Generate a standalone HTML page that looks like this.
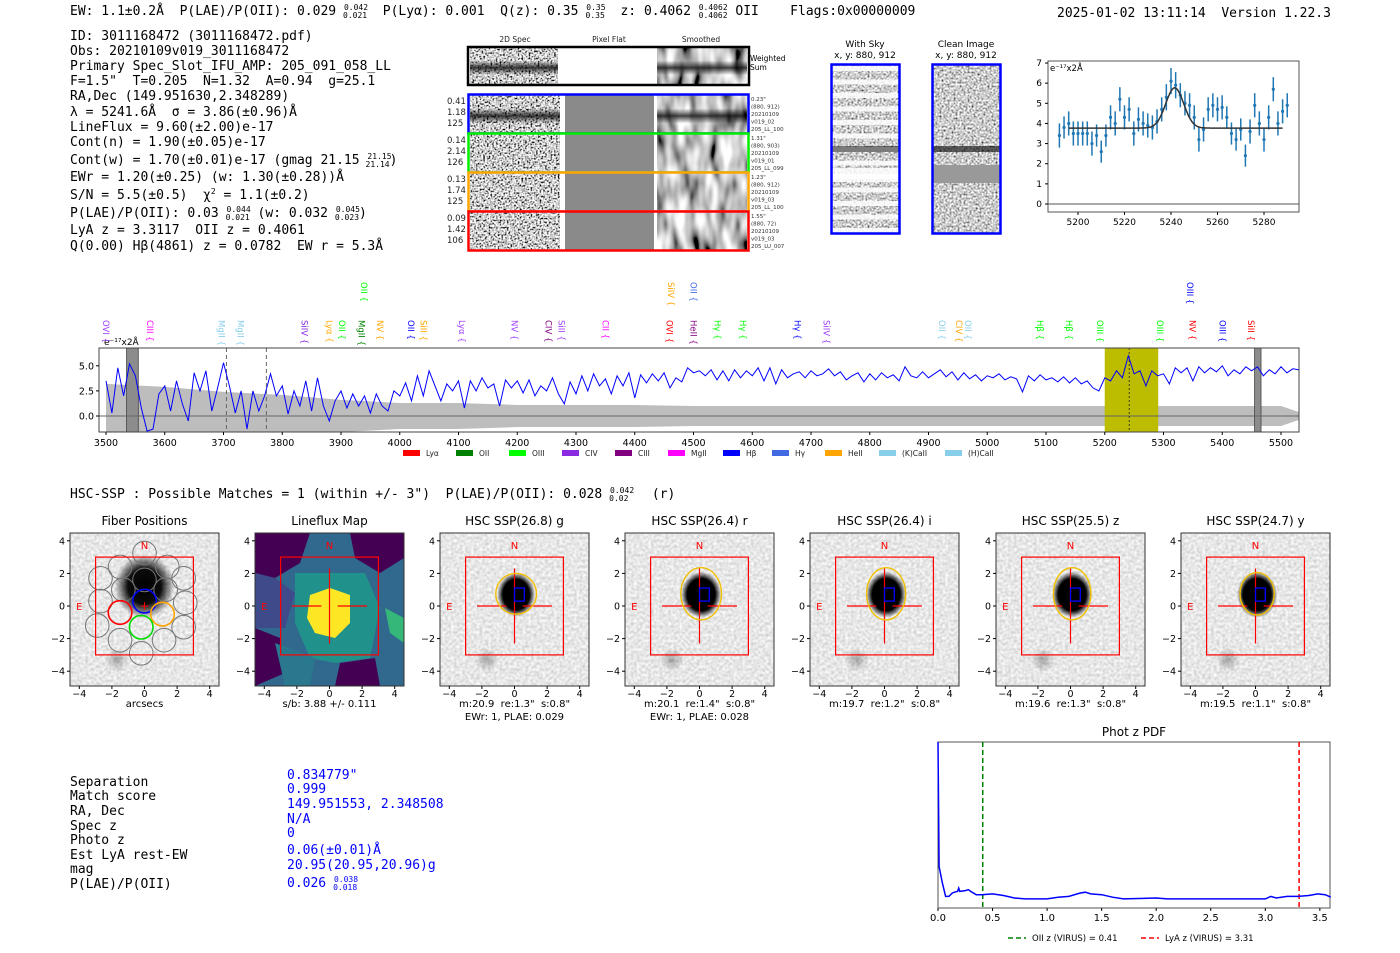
<!DOCTYPE html>
<html><head><meta charset="utf-8">
<style>
html,body{margin:0;padding:0;background:#fff;}
svg{display:block;}
svg text{white-space:pre;}
.mono{font-family:"DejaVu Sans Mono","Liberation Mono",monospace;}
.sans{font-family:"DejaVu Sans","Liberation Sans",sans-serif;}
</style></head>
<body>
<svg id="fig" width="1400" height="953" viewBox="0 0 1400 953" xmlns="http://www.w3.org/2000/svg" xml:space="preserve">
<defs>
 <filter id="nzHard" x="0" y="0" width="1" height="1">
  <feTurbulence type="fractalNoise" baseFrequency="0.55" numOctaves="1" seed="4"/>
  <feColorMatrix type="matrix" values="3 0 0 0 -0.9 3 0 0 0 -0.9 3 0 0 0 -0.9 0 0 0 0 1"/>
 </filter>
 <filter id="nzSmooth" x="0" y="0" width="1" height="1">
  <feTurbulence type="fractalNoise" baseFrequency="0.09 0.03" numOctaves="2" seed="7"/>
  <feColorMatrix type="matrix" values="2 0 0 0 -0.45 2 0 0 0 -0.45 2 0 0 0 -0.45 0 0 0 0 1"/>
 </filter>
 <filter id="nzLight" x="0" y="0" width="1" height="1">
  <feTurbulence type="fractalNoise" baseFrequency="0.35" numOctaves="1" seed="11"/>
  <feColorMatrix type="matrix" values="0.6 0 0 0 0.5 0.6 0 0 0 0.5 0.6 0 0 0 0.5 0 0 0 0 1"/>
 </filter>
 <filter id="nzMid" x="0" y="0" width="1" height="1">
  <feTurbulence type="fractalNoise" baseFrequency="0.5" numOctaves="1" seed="2"/>
  <feColorMatrix type="matrix" values="1.8 0 0 0 -0.3 1.8 0 0 0 -0.3 1.8 0 0 0 -0.3 0 0 0 0 1"/>
 </filter>
 <linearGradient id="band" x1="0" y1="0" x2="0" y2="1">
  <stop offset="0" stop-color="#000" stop-opacity="0"/>
  <stop offset="0.35" stop-color="#000" stop-opacity="0"/>
  <stop offset="0.55" stop-color="#000" stop-opacity="0.75"/>
  <stop offset="0.75" stop-color="#000" stop-opacity="0"/>
  <stop offset="1" stop-color="#000" stop-opacity="0"/>
 </linearGradient>
 <pattern id="skyStripes" x="0" y="66" width="10" height="13.5" patternUnits="userSpaceOnUse">
  <rect x="0" y="0" width="10" height="5" fill="#fff" opacity="0.85"/>
 </pattern>
 <radialGradient id="blobSharp"><stop offset="0" stop-color="#000"/><stop offset="0.7" stop-color="#000"/><stop offset="1" stop-color="#000" stop-opacity="0"/></radialGradient>
 <radialGradient id="blobSoft"><stop offset="0" stop-color="#000"/><stop offset="0.55" stop-color="#000" stop-opacity="0.95"/><stop offset="1" stop-color="#000" stop-opacity="0"/></radialGradient>
 <radialGradient id="blobFaint"><stop offset="0" stop-color="#000" stop-opacity="0.3"/><stop offset="1" stop-color="#000" stop-opacity="0"/></radialGradient>
 <clipPath id="specClip"><rect x="99" y="348" width="1200" height="84"/></clipPath>
</defs>

<g class="mono" font-size="13" fill="#000">
 <text x="70" y="15">EW: 1.1±0.2Å  P(LAE)/P(OII): 0.029 <tspan font-size="8" dy="-5">0.042</tspan><tspan font-size="8" dx="-25" dy="8">0.021</tspan><tspan dy="-3">  P(Lyα): 0.001  Q(z): 0.35 </tspan><tspan font-size="8" dy="-5">0.35</tspan><tspan font-size="8" dx="-20" dy="8">0.35</tspan><tspan dy="-3">  z: 0.4062 </tspan><tspan font-size="8" dy="-5">0.4062</tspan><tspan font-size="8" dx="-29" dy="8">0.4062</tspan><tspan dy="-3"> OII    Flags:0x00000009</tspan></text>
 <text x="1057" y="17">2025-01-02 13:11:14  Version 1.22.3</text>
</g>

<g class="mono" font-size="13" fill="#000">
 <text x="70" y="40">ID: 3011168472 (3011168472.pdf)</text>
 <text x="70" y="55">Obs: 20210109v019_3011168472</text>
 <text x="70" y="70">Primary Spec_Slot_IFU_AMP: 205_091_058_LL</text>
 <text x="70" y="85">F=1.5"  T=0.205  N=1.32  A=0.94  g=25.1</text>
 <text x="70" y="100">RA,Dec (149.951630,2.348289)</text>
 <text x="70" y="116">λ = 5241.6Å  σ = 3.86(±0.96)Å</text>
 <text x="70" y="131">LineFlux = 9.60(±2.00)e-17</text>
 <text x="70" y="146">Cont(n) = 1.90(±0.05)e-17</text>
 <text x="70" y="164">Cont(w) = 1.70(±0.01)e-17 (gmag 21.15 <tspan font-size="8" dy="-5">21.15</tspan><tspan font-size="8" dx="-26" dy="8">21.14</tspan><tspan dy="-3">)</tspan></text>
 <text x="70" y="181">EWr = 1.20(±0.25) (w: 1.30(±0.28))Å</text>
 <text x="70" y="199">S/N = 5.5(±0.5)  χ<tspan font-size="8" dy="-5">2</tspan><tspan dy="5"> = 1.1(±0.2)</tspan></text>
 <text x="70" y="217">P(LAE)/P(OII): 0.03 <tspan font-size="8" dy="-5">0.044</tspan><tspan font-size="8" dx="-25" dy="8">0.021</tspan><tspan dy="-3"> (w: 0.032 </tspan><tspan font-size="8" dy="-5">0.045</tspan><tspan font-size="8" dx="-25" dy="8">0.023</tspan><tspan dy="-3">)</tspan></text>
 <text x="70" y="234">LyA z = 3.3117  OII z = 0.4061</text>
 <text x="70" y="250">Q(0.00) Hβ(4861) z = 0.0782  EW r = 5.3Å</text>
</g>

<g>
 <g class="sans" font-size="7.5" fill="#222" text-anchor="middle">
  <text x="515" y="42">2D Spec</text><text x="609" y="42">Pixel Flat</text><text x="701" y="42">Smoothed</text>
 </g>
 <g>
  <rect x="470" y="48" width="88" height="36" filter="url(#nzHard)"/>
  <rect x="470" y="48" width="88" height="36" fill="url(#band)"/>
  <rect x="558" y="48" width="99" height="36" fill="#fff"/>
  <rect x="657" y="48" width="90" height="36" filter="url(#nzSmooth)"/>
  <rect x="657" y="48" width="90" height="36" fill="url(#band)"/>
  <rect x="468" y="47" width="281" height="38" fill="none" stroke="#000" stroke-width="2.5"/>
  <text class="sans" x="750" y="61" font-size="7.5">Weighted</text><text class="sans" x="750" y="70" font-size="7.5">Sum</text>
 </g>
 <g id="specRows"></g>
</g>

<g>
 <text class="sans" x="865" y="47" font-size="9" text-anchor="middle">With Sky</text>
 <text class="sans" x="865" y="58" font-size="9" text-anchor="middle">x, y: 880, 912</text>
 <rect x="832" y="65" width="67" height="168" filter="url(#nzMid)"/>
 <rect x="832" y="65" width="67" height="168" fill="url(#skyStripes)"/>
 <rect x="832" y="146" width="67" height="6" fill="#000" opacity="0.5"/>
 <rect x="832" y="168" width="67" height="14" fill="#fff" opacity="0.85"/>
 <rect x="831.5" y="64.5" width="68" height="169" fill="none" stroke="#0000ff" stroke-width="2.5"/>
</g>
<g>
 <text class="sans" x="966" y="47" font-size="9" text-anchor="middle">Clean Image</text>
 <text class="sans" x="966" y="58" font-size="9" text-anchor="middle">x, y: 880, 912</text>
 <rect x="933" y="65" width="67" height="168" filter="url(#nzMid)"/>
 <rect x="933" y="146" width="67" height="6" fill="#000" opacity="0.6"/>
 <rect x="933" y="165" width="67" height="18" fill="#999"/>
 <rect x="932.5" y="64.5" width="68" height="169" fill="none" stroke="#0000ff" stroke-width="2.5"/>
</g>

<g id="fitPlot" class="sans"></g>
<g id="specPlot" class="sans"></g>

<text class="mono" x="70" y="498" font-size="13">HSC-SSP : Possible Matches = 1 (within +/- 3")  P(LAE)/P(OII): 0.028 <tspan font-size="8" dy="-5">0.042</tspan><tspan font-size="8" dx="-25" dy="8">0.02</tspan><tspan dy="-3">   (r)</tspan></text>

<g id="cutouts" class="sans"></g>

<g class="mono" font-size="13">
 <g fill="#000">
  <text x="70" y="786">Separation</text><text x="70" y="800">Match score</text><text x="70" y="815">RA, Dec</text>
  <text x="70" y="830">Spec z</text><text x="70" y="844">Photo z</text><text x="70" y="859">Est LyA rest-EW</text>
  <text x="70" y="873">mag</text><text x="70" y="888">P(LAE)/P(OII)</text>
 </g>
 <g fill="#0000ff">
  <text x="287" y="779">0.834779"</text><text x="287" y="793">0.999</text><text x="287" y="808">149.951553, 2.348508</text>
  <text x="287" y="823">N/A</text><text x="287" y="837">0</text><text x="287" y="854">0.06(±0.01)Å</text>
  <text x="287" y="869">20.95(20.95,20.96)g</text>
  <text x="287" y="887">0.026 <tspan font-size="8" dy="-5">0.038</tspan><tspan font-size="8" dx="-25" dy="8">0.018</tspan></text>
 </g>
</g>

<g id="pdfPlot" class="sans"></g>
</svg>

<script>
const specWaveStart = 3500;
const specWaveStep = 10;
const specFlux = [3.5,0.3,4.8,2.0,5.2,4.0,0.8,-1.5,-1.3,2.2,3.0,0.5,3.5,1.2,-0.5,4.3,2.5,4.5,0.5,2.8,
5.3,3.0,0.3,2.5,-1.3,2.5,0.5,2.0,4.2,2.0,3.0,0.2,2.5,1.0,3.5,0.5,3.8,1.0,-0.5,1.5,
2.5,0.8,2.2,1.0,2.0,0.3,2.2,1.0,0.5,2.5,2.0,3.3,1.5,4.0,2.0,4.5,3.0,1.5,3.2,2.5,
3.5,0.8,3.5,2.5,3.8,2.8,3.2,1.0,3.6,2.8,3.5,2.3,3.6,2.0,3.0,2.5,3.8,2.2,1.2,3.4,
2.2,4.0,2.5,4.2,3.0,3.7,2.2,4.0,3.0,4.3,1.8,4.1,3.3,4.2,3.5,4.3,2.8,3.8,3.4,4.8,
4.3,4.5,4.0,4.6,3.6,4.5,3.5,4.6,3.8,4.5,4.0,4.8,3.5,4.8,3.2,4.6,3.8,4.2,4.4,3.8,
4.5,4.0,4.2,4.7,4.0,4.4,3.6,4.0,4.3,3.4,4.2,3.6,4.3,3.8,4.1,3.5,4.9,4.0,3.8,4.4,
3.8,4.2,4.6,3.9,4.4,3.6,4.3,3.7,4.1,3.5,4.0,3.8,4.2,3.6,3.9,3.7,2.4,4.0,3.5,4.1,
3.6,3.8,3.4,3.9,3.3,3.8,3.2,3.5,2.8,2.5,3.8,3.5,4.5,3.8,6.0,4.2,4.5,3.0,4.5,4.0,
4.2,3.2,4.8,4.3,4.8,3.5,4.9,4.3,4.8,4.4,5.0,4.0,4.6,4.2,4.9,4.5,4.9,4.0,4.6,4.2,
4.9,4.3,4.7,4.6];
const errWave = [3500,3600,3700,3800,3900,4000,4100,4200,4300,4400,4500,4600,4700,4800,4900,5000,5100,5200,5300,5400,5500,5530];
const errHalf = [3.2,2.9,2.4,2.1,1.6,1.3,1.3,1.1,1.1,1.1,1.0,1.0,1.0,1.0,1.0,1.0,1.0,1.0,1.0,1.0,1.0,0.4];
const specTicks = [3500,3600,3700,3800,3900,4000,4100,4200,4300,4400,4500,4600,4700,4800,4900,5000,5100,5200,5300,5400,5500];
const specYTicks = [0.0,2.5,5.0];
const fitRegion = [5200,5291];
const lineCenter = 5241.6;
const maskedRegions = [[3535,3555],[5455,5466]];
const dashedLines = [3705,3773];
const lineLabels = [["OVI",3500,"#a040ff",0],["CIII",3575,"#ff00ff",0],["MgII",3697,"#87ceeb",0],["MgII",3729,"#87ceeb",0],
["SiIV",3838,"#8a2be2",0],["Lyα",3880,"#ffa500",0],["OII",3902,"#00ff00",0],["MgII",3935,"#008000",0],["OII",3939,"#00ff00",1],
["NV",3966,"#ffa500",0],["OII",4019,"#0000ff",0],["SiII",4040,"#ffa500",0],["Lyα",4106,"#a040ff",0],["NV",4195,"#a040ff",0],
["CIV",4253,"#800080",0],["SiII",4275,"#a040ff",0],["CII",4350,"#ff00ff",0],["OVI",4459,"#ff0000",0],["SiIV",4462,"#ffa500",1],
["OII",4500,"#4169e1",1],["HeII",4500,"#800080",0],["Hγ",4541,"#00ff00",0],["Hγ",4584,"#00ff00",0],["Hγ",4677,"#0000ff",0],
["SiIV",4726,"#a040ff",0],["OII",4923,"#87ceeb",0],["CIV",4952,"#ffa500",0],["OII",4967,"#87ceeb",0],["Hβ",5090,"#00ff00",0],
["Hβ",5139,"#00ff00",0],["OIII",5192,"#00ff00",0],["OIII",5294,"#00ff00",0],["NV",5349,"#ff0000",0],["OIII",5345,"#0000ff",1],
["OIII",5400,"#0000ff",0],["SiII",5449,"#ff0000",0]];
const legendNames = ["Lyα","OII","OIII","CIV","CIII","MgII","Hβ","Hγ","HeII","(K)CaII","(H)CaII"];
const legendColors = ["#ff0000","#008000","#00ff00","#8a2be2","#800080","#ff00ff","#0000ff","#4169e1","#ffa500","#87ceeb","#87ceeb"];

const fitWave = [5192,5194,5196,5198,5200,5202,5204,5206,5208,5210,5212,5214,5216,5218,5220,5222,5224,5226,5228,5230,5232,5234,5236,5238,5240,5242,5244,5246,5248,5250,5252,5254,5256,5258,5260,5262,5264,5266,5268,5270,5272,5274,5276,5278,5280,5282,5284,5286,5288,5290];
const fitFlux = [3.4,3.8,4.0,3.5,3.5,3.5,3.5,3.0,3.4,2.6,3.4,4.3,4.0,5.2,4.3,4.7,3.5,4.2,4.0,3.9,3.8,4.1,4.7,5.3,6.1,5.9,5.4,5.0,4.9,4.3,3.2,3.7,4.7,4.9,4.7,4.8,4.3,3.5,3.2,3.7,2.4,3.6,4.9,4.0,3.2,4.3,5.7,4.0,4.6,4.9];
const fitErr = [0.6,0.55,0.6,0.6,0.6,0.6,0.6,0.6,0.55,0.55,0.55,0.6,0.6,0.6,0.6,0.6,0.6,0.6,0.6,0.6,0.6,0.6,0.6,0.65,0.65,0.65,0.6,0.6,0.6,0.6,0.6,0.6,0.6,0.6,0.6,0.6,0.55,0.55,0.55,0.55,0.55,0.6,0.6,0.6,0.6,0.6,0.6,0.6,0.6,0.6];
const fitModel = [3.77, 2.0, 5241.6, 3.86];
const fitModelRange = [5196,5288];
const fitXTicks = [5200,5220,5240,5260,5280];
const fitYTicks = [0,1,2,3,4,5,6,7];

const pdfZ = [0,0.01,0.04,0.07,0.1,0.13,0.15,0.18,0.19,0.2,0.25,0.28,0.3,0.35,0.4,0.5,0.6,0.7,0.8,1.0,1.1,1.2,1.3,1.35,1.4,1.5,1.6,1.7,2.0,2.1,2.5,3.0,3.05,3.1,3.2,3.3,3.4,3.48,3.55,3.6];
const pdfP = [1.0,0.25,0.15,0.07,0.07,0.09,0.095,0.1,0.12,0.1,0.105,0.11,0.1,0.08,0.08,0.085,0.075,0.06,0.055,0.055,0.065,0.07,0.09,0.095,0.085,0.08,0.065,0.055,0.06,0.055,0.055,0.055,0.07,0.06,0.07,0.07,0.075,0.085,0.08,0.065];
const pdfXTicks = [0.0,0.5,1.0,1.5,2.0,2.5,3.0,3.5];
const pdfMarkers = [0.41, 3.31];

const spec2dRowLabels = [["0.41","1.18","125"],["0.14","2.14","126"],["0.13","1.74","125"],["0.09","1.42","106"]];
const spec2dRowInfo = [['0.23"',"(880, 912)","20210109","v019_02","205_LL_100"],['1.31"',"(880, 903)","20210109","v019_01","205_LL_099"],['1.23"',"(880, 912)","20210109","v019_03","205_LL_100"],['1.55"',"(880, 72)","20210109","v019_03","205_LU_007"]];
const spec2dRowColors = ["#0000ff","#00ee00","#ffa500","#ff0000"];

const cutTitles = ["Fiber Positions","Lineflux Map","HSC SSP(26.8) g","HSC SSP(26.4) r","HSC SSP(26.4) i","HSC SSP(25.5) z","HSC SSP(24.7) y"];
const cutLabel1 = ["arcsecs","s/b: 3.88 +/- 0.111",'m:20.9  re:1.3"  s:0.8"','m:20.1  re:1.4"  s:0.8"','m:19.7  re:1.2"  s:0.8"','m:19.6  re:1.3"  s:0.8"','m:19.5  re:1.1"  s:0.8"'];
const cutLabel2 = ["","","EWr: 1, PLAE: 0.029","EWr: 1, PLAE: 0.028","","",""];
const cutEllA = [0,0,1.25,1.25,1.2,1.15,1.05];
const cutEllB = [0,0,1.25,1.6,1.6,1.6,1.3];
const cutTicks = [-4,-2,0,2,4];
const fiberX = [0,-1.5,1.4,-2.7,2.4,0,-1.3,1.3,-2.7,2.5,-2.9,2.4,-1.5,1.2,-0.2,0,-1.5,1.1,-0.2];
const fiberY = [3.25,2.4,2.4,1.7,1.7,1.6,1.0,1.0,0.3,0.2,-1.2,-1.3,-2.1,-2.1,-2.9,0.3,-0.4,-0.5,-1.3];
const fiberColor = ["g","g","g","g","g","g","g","g","g","g","g","g","g","g","g","#0000ff","#ff0000","#ffa500","#00dd00"];

const NS = "http://www.w3.org/2000/svg";
function mk(parent, tag, attrs, txt) {
  const e = document.createElementNS(NS, tag);
  for (const k in attrs) e.setAttribute(k, attrs[k]);
  if (txt !== undefined) e.textContent = txt;
  parent.appendChild(e);
  return e;
}

(function(){
  const g = document.getElementById("specRows");
  const rowY = [95,134,173,212];
  for (let i = 0; i < 4; i++) {
    const y = rowY[i], h = 38;
    const row = mk(g, "g", {});
    
    
    mk(row, "rect", {x:470, y:y, width:90, height:h, filter:"url(#nzHard)"});
    if (i === 0) mk(row, "rect", {x:470, y:y, width:90, height:h, fill:"url(#band)"});
    mk(row, "rect", {x:560, y:y, width:5, height:h, fill:"#fff"});
    mk(row, "rect", {x:565, y:y, width:89, height:h, fill:"#8a8a8a"});
    mk(row, "rect", {x:654, y:y, width:3, height:h, fill:"#fff"});
    mk(row, "rect", {x:657, y:y, width:90, height:h, filter:"url(#nzSmooth)"});
    if (i === 0) mk(row, "rect", {x:657, y:y, width:90, height:h, fill:"url(#band)"});
    mk(row, "rect", {x:468.5, y:y-0.5, width:280, height:h+1, fill:"none", stroke:spec2dRowColors[i], "stroke-width":2.5});
    for (let j = 0; j < 3; j++) mk(row, "text", {x:447, y:y+9+j*11, "font-size":8.5, "font-family":"DejaVu Sans, sans-serif", fill:"#222"}, spec2dRowLabels[i][j]);
    for (let j = 0; j < 5; j++) mk(row, "text", {x:751, y:y+6+j*7.5, "font-size":5.5, "font-family":"DejaVu Sans, sans-serif", fill:"#333"}, spec2dRowInfo[i][j]);
  }
})();

(function(){
  const g = document.getElementById("fitPlot");
  const sx = w => 1078 + (w - 5200) * 2.325;
  const sy = v => 204 - v * 20.14;
  mk(g, "rect", {x:1048, y:61, width:251, height:151, fill:"#fff", stroke:"#555", "stroke-width":1});
  mk(g, "line", {x1:1048, x2:1299, y1:sy(0), y2:sy(0), stroke:"#555", "stroke-width":1});
  fitXTicks.forEach(t => {
    mk(g, "line", {x1:sx(t), x2:sx(t), y1:212, y2:215, stroke:"#000"});
    mk(g, "text", {x:sx(t), y:225, "font-size":9, "text-anchor":"middle"}, t);
  });
  fitYTicks.forEach(t => {
    mk(g, "line", {x1:1045, x2:1048, y1:sy(t), y2:sy(t), stroke:"#000"});
    mk(g, "text", {x:1042, y:sy(t)+3, "font-size":9, "text-anchor":"end"}, t);
  });
  mk(g, "text", {x:1050, y:71, "font-size":8.5}, "e⁻¹⁷x2Å");
  const pts = mk(g, "g", {});
  
  
  for (let i = 0; i < fitWave.length; i++) {
    const x = sx(fitWave[i]);
    mk(pts, "line", {x1:x, x2:x, y1:sy(fitFlux[i]-fitErr[i]), y2:sy(fitFlux[i]+fitErr[i]), stroke:"#1f77b4", "stroke-width":1.5});
    mk(pts, "circle", {cx:x, cy:sy(fitFlux[i]), r:1.6, fill:"#1f77b4"});
  }
  let d = "";
  for (let w = fitModelRange[0]; w <= fitModelRange[1]; w += 0.5) {
    const v = fitModel[0] + fitModel[1] * Math.exp(-0.5 * Math.pow((w - fitModel[2]) / fitModel[3], 2));
    d += (d ? "L" : "M") + sx(w).toFixed(1) + "," + sy(v).toFixed(1);
  }
  const model = mk(g, "path", {d:d, fill:"none", stroke:"#333", "stroke-width":1.5});
  
  
})();

(function(){
  const g = document.getElementById("specPlot");
  const sx = w => 106 + (w - 3500) * 0.5875;
  const sy = v => 416 - v * 10.04;
  mk(g, "rect", {x:99, y:348, width:1200, height:84, fill:"#fff"});
  const inner = mk(g, "g", {"clip-path":"url(#specClip)"});
  let top = "", bot = "";
  for (let i = 0; i < errWave.length; i++) top += (i ? "L" : "M") + sx(errWave[i]) + "," + sy(errHalf[i]);
  for (let i = errWave.length - 1; i >= 0; i--) bot += "L" + sx(errWave[i]) + "," + sy(-errHalf[i]);
  const band = mk(inner, "path", {d:top + bot + "Z", fill:"#bdbdbd"});
  
  
  const fr = mk(inner, "rect", {x:sx(fitRegion[0]), y:348, width:sx(fitRegion[1]) - sx(fitRegion[0]), height:84, fill:"#bcbc00"});
  
  
  maskedRegions.forEach(r => {
    const m = mk(inner, "rect", {x:sx(r[0]), y:348, width:sx(r[1]) - sx(r[0]), height:84, fill:"#8c8c8c", stroke:"#444", "stroke-width":0.8});
    
    
  });
  mk(inner, "line", {x1:99, x2:1299, y1:sy(0), y2:sy(0), stroke:"#666", "stroke-width":1});
  dashedLines.forEach(w => mk(inner, "line", {x1:sx(w), x2:sx(w), y1:348, y2:432, stroke:"#666", "stroke-dasharray":"4,3", "stroke-width":1}));
  mk(inner, "line", {x1:sx(lineCenter), x2:sx(lineCenter), y1:348, y2:432, stroke:"#222", "stroke-dasharray":"2,2", "stroke-width":0.8});
  let d = "";
  for (let i = 0; i < specFlux.length; i++) d += (i ? "L" : "M") + sx(specWaveStart + i * specWaveStep).toFixed(1) + "," + sy(specFlux[i]).toFixed(1);
  const line = mk(inner, "path", {d:d, fill:"none", stroke:"#0000ff", "stroke-width":1});
  
  
  mk(g, "rect", {x:99, y:348, width:1200, height:84, fill:"none", stroke:"#444", "stroke-width":1});
  specTicks.forEach(t => {
    mk(g, "line", {x1:sx(t), x2:sx(t), y1:432, y2:435, stroke:"#000"});
    mk(g, "text", {x:sx(t), y:446, "font-size":9.5, "text-anchor":"middle"}, t);
  });
  specYTicks.forEach(t => {
    mk(g, "line", {x1:96, x2:99, y1:sy(t), y2:sy(t), stroke:"#000"});
    mk(g, "text", {x:94, y:sy(t)+3.5, "font-size":9.5, "text-anchor":"end"}, t.toFixed(1));
  });
  mk(g, "text", {x:104, y:345, "font-size":9}, "e⁻¹⁷x2Å");
  lineLabels.forEach(L => {
    const x = sx(L[1]);
    const y0 = L[3] ? 282 : 320;
    const t = mk(g, "text", {x:0, y:0, "font-size":8.5, fill:L[2], transform:"translate(" + (x-3) + "," + y0 + ") rotate(90)"}, L[0] + " {");
    
    
  });
  const lg = mk(g, "g", {});
  
  
  const lx = [403,456,509,562,615,668,723,772,825,879,945];
  for (let i = 0; i < legendNames.length; i++) {
    mk(lg, "rect", {x:lx[i], y:450, width:17, height:6, fill:legendColors[i]});
    mk(lg, "text", {x:lx[i]+23, y:456, "font-size":7.5, fill:"#222"}, legendNames[i]);
  }
})();

(function(){
  const root = document.getElementById("cutouts");
  const lefts = [70,255,440,625,810,996,1181];
  for (let p = 0; p < 7; p++) {
    const L = lefts[p], cx = L + 74.5, cy = 606, s = 16.3;
    const X = a => cx + a * s, Y = a => cy - a * s;
    const g = mk(root, "g", {});
    
    
    mk(g, "text", {x:cx, y:525, "font-size":12, "text-anchor":"middle"}, cutTitles[p]);
    if (p === 1) {
      mk(g, "rect", {x:L, y:533, width:149, height:153, fill:"#31688e"});
      const polys = [
        ["#440154","0,0 55,0 45,30 20,45 0,40"],["#440154","95,0 149,0 149,25 125,40 100,25"],
        ["#440154","0,95 25,105 30,140 0,153"],["#440154","85,130 120,125 125,153 80,153"],
        ["#3e4a89","0,40 20,45 40,60 30,95 0,95"],["#21918c","40,40 110,40 125,75 115,125 80,130 55,125 40,90"],
        ["#35b779","130,75 149,85 149,110 135,100"],["#2a788e","20,110 60,125 55,153 30,153"],
        ["#fde725","55,62 75,55 95,62 95,90 80,105 60,100 52,85"]
      ];
      polys.forEach(q => mk(g, "polygon", {points:q[1].split(" ").map(pt => { const c = pt.split(","); return (L + +c[0]) + "," + (533 + +c[1]); }).join(" "), fill:q[0]}));
    } else {
      mk(g, "rect", {x:L, y:533, width:149, height:153, filter:"url(#nzLight)"});
      if (p === 0) {
        mk(g, "ellipse", {cx:X(0), cy:Y(1.2), rx:30, ry:32, fill:"url(#blobSoft)"});
      } else {
        const rr = p === 2 ? 19 : 20;
        mk(g, "ellipse", {cx:X(0.1), cy:Y(0.7), rx:rr, ry:rr*1.15, fill:"url(#blobSharp)"});
      }
      mk(g, "circle", {cx:X(-1.7), cy:Y(-3.3), r:12, fill:"url(#blobFaint)"});
    }
    mk(g, "rect", {x:L, y:533, width:149, height:153, fill:"none", stroke:"#333", "stroke-width":1});
    if (p === 0) {
      for (let i = 0; i < fiberX.length; i++) {
        const c = mk(g, "circle", {cx:X(fiberX[i]), cy:Y(fiberY[i]), r:11.8, fill:"none", stroke:fiberColor[i] === "g" ? "#777" : fiberColor[i], "stroke-width":fiberColor[i] === "g" ? 1 : 1.6});
        
        
      }
      mk(g, "text", {x:X(0), y:Y(0)+4, "font-size":12, fill:"#ff0000", "text-anchor":"middle"}, "+");
    }
    mk(g, "rect", {x:X(-3), y:Y(3), width:6*s, height:6*s, fill:"none", stroke:"#ff0000", "stroke-width":1.2});
    if (p >= 1) {
      mk(g, "line", {x1:X(-2.3), x2:X(-0.5), y1:Y(0), y2:Y(0), stroke:"#ff0000", "stroke-width":1.2});
      mk(g, "line", {x1:X(0.5), x2:X(2.3), y1:Y(0), y2:Y(0), stroke:"#ff0000", "stroke-width":1.2});
      mk(g, "line", {x1:X(0), x2:X(0), y1:Y(2.3), y2:Y(-2.3), stroke:"#ff0000", "stroke-width":1.2});
    }
    if (p >= 2) {
      const e = mk(g, "ellipse", {cx:X(0.1), cy:Y(0.75), rx:cutEllA[p]*s, ry:cutEllB[p]*s, fill:"none", stroke:"#f0c000", "stroke-width":1.4});
      
      
      mk(g, "rect", {x:X(0), y:Y(1.1), width:0.6*s, height:0.8*s, fill:"none", stroke:"#0000ff", "stroke-width":1.3});
    }
    mk(g, "text", {x:X(0), y:Y(3.8)+5, "font-size":10, fill:"#ff0000", "text-anchor":"middle"}, "N");
    mk(g, "text", {x:X(-4), y:Y(0)+4, "font-size":10, fill:"#ff0000", "text-anchor":"middle"}, "E");
    cutTicks.forEach(t => {
      mk(g, "line", {x1:X(t), x2:X(t), y1:686, y2:689, stroke:"#000"});
      mk(g, "text", {x:X(t), y:697, "font-size":9.5, "text-anchor":"middle"}, t < 0 ? "−" + (-t) : t);
      mk(g, "line", {x1:L-3, x2:L, y1:Y(t), y2:Y(t), stroke:"#000"});
      mk(g, "text", {x:L-5, y:Y(t)+3.5, "font-size":9.5, "text-anchor":"end"}, t < 0 ? "−" + (-t) : t);
    });
    mk(g, "text", {x:cx, y:707, "font-size":10, "text-anchor":"middle"}, cutLabel1[p]);
    if (cutLabel2[p]) mk(g, "text", {x:cx, y:720, "font-size":10, "text-anchor":"middle"}, cutLabel2[p]);
  }
})();

(function(){
  const g = document.getElementById("pdfPlot");
  const sx = z => 938 + z * 109.1;
  const sy = v => 908 - v * 166;
  mk(g, "text", {x:1134, y:736, "font-size":12, "text-anchor":"middle"}, "Phot z PDF");
  mk(g, "rect", {x:938, y:742, width:392, height:166, fill:"#fff", stroke:"#555", "stroke-width":1});
  const cols = ["#008000","#ff0000"];
  pdfMarkers.forEach((z, i) => {
    const l = mk(g, "line", {x1:sx(z), x2:sx(z), y1:742, y2:908, stroke:cols[i], "stroke-width":1.5, "stroke-dasharray":"5,3"});
    
    
  });
  let d = "";
  for (let i = 0; i < pdfZ.length; i++) d += (i ? "L" : "M") + sx(pdfZ[i]).toFixed(1) + "," + sy(pdfP[i]).toFixed(1);
  const c = mk(g, "path", {d:d, fill:"none", stroke:"#0000ff", "stroke-width":1.5});
  
  
  pdfXTicks.forEach(t => {
    mk(g, "line", {x1:sx(t), x2:sx(t), y1:908, y2:911, stroke:"#000"});
    mk(g, "text", {x:sx(t), y:921, "font-size":10, "text-anchor":"middle"}, t.toFixed(1));
  });
  const lg = mk(g, "g", {});
  
  
  mk(lg, "line", {x1:1008, x2:1026, y1:938, y2:938, stroke:"#008000", "stroke-width":1.5, "stroke-dasharray":"5,3"});
  mk(lg, "text", {x:1032, y:941, "font-size":8.5}, "OII z (VIRUS) = 0.41");
  mk(lg, "line", {x1:1141, x2:1159, y1:938, y2:938, stroke:"#ff0000", "stroke-width":1.5, "stroke-dasharray":"5,3"});
  mk(lg, "text", {x:1165, y:941, "font-size":8.5}, "LyA z (VIRUS) = 3.31");
})();
</script>
</body></html>
